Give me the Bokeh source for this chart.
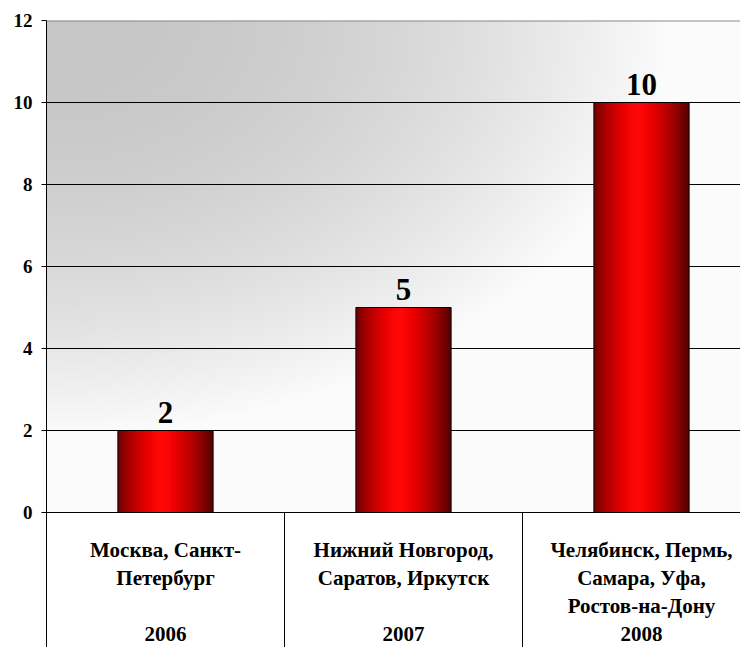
import numpy as np
from bokeh.plotting import figure
from bokeh.models import Range1d, FixedTicker, Span, ColumnDataSource
from bokeh.core.properties import value
from bokeh.embed import file_html
from bokeh.resources import INLINE

# ---- data ----
categories = [
    "Москва, Санкт-\nПетербург",
    "Нижний Новгород,\nСаратов, Иркутск",
    "Челябинск, Пермь,\nСамара, Уфа,\nРостов-на-Дону",
]
years = ["2006", "2007", "2008"]
values = [2, 5, 10]
y_ticks = [0, 2, 4, 6, 8, 10, 12]
grid_ticks = [0, 2, 4, 6, 8, 10]
y_max = 12

# ---- layout constants ----
W, H = 740, 647
LEFT, TOP = 46, 20
PX_PER_UNIT = 41
CAT_PX = 238
BAR_W = 0.40
frame_w = W - LEFT
frame_h = H - TOP
x_end = frame_w / CAT_PX
y_min = y_max - frame_h / PX_PER_UNIT
FONT = value("Liberation Serif")

centers = [i + 0.5 for i in range(len(values))]
bounds = [i + 1 for i in range(len(values))]

p = figure(width=W, height=H, output_backend="svg", toolbar_location=None,
           x_range=Range1d(0, x_end), y_range=Range1d(y_min, y_max),
           x_axis_location=None, min_border_left=LEFT, min_border_top=TOP,
           min_border_right=0, min_border_bottom=0, outline_line_color=None,
           background_fill_color="white", border_fill_color="white")

# background gradient (plot area 0..12)
gw, gh = 347, 246
plot_px_h = y_max * PX_PER_UNIT
xs = np.linspace(0, frame_w, gw)[None, :]
ys = plot_px_h - np.linspace(0, plot_px_h, gh)[:, None]  # px from top; row 0 = bottom
f2 = (xs / 1.5) ** 2 + ys ** 2
c = np.clip(198 + 3.1e-4 * f2, 0, 251).astype(np.uint32)
bg = (255 << 24) | (c << 16) | (c << 8) | c
p.image_rgba(image=[bg.astype(np.uint32)], x=0, y=0, dw=x_end, dh=y_max, level="image")

# grid & axes
p.xgrid.visible = False
p.ygrid.ticker = FixedTicker(ticks=grid_ticks)
p.ygrid.grid_line_color = "black"
p.ygrid.grid_line_width = 1
p.add_layout(Span(location=y_max, dimension="width", line_color="#8a8a8a", line_width=2))

ax = p.yaxis[0]
ax.ticker = FixedTicker(ticks=y_ticks)
ax.axis_line_color = "black"
ax.major_tick_line_color = "black"
ax.major_tick_out = 5
ax.major_tick_in = 0
ax.minor_tick_line_color = None
ax.major_label_standoff = 9
ax.major_label_text_font = "Liberation Serif"
ax.major_label_text_font_style = "bold"
ax.major_label_text_font_size = "19px"
ax.major_label_text_color = "black"

# bar gradient
s = np.linspace(0, 1, 64)
peak = 0.45
r = np.where(s < peak, 255 - 140 * ((peak - s) / peak) ** 1.6,
             255 - 170 * ((s - peak) / (1 - peak)) ** 1.6)
r = np.clip(r, 0, 255).astype(np.uint32)
g = np.clip((r.astype(float) - 235) * 0.4, 0, 255).astype(np.uint32)
bar_img = ((255 << 24) | (g << 16) | (g << 8) | r)[None, :].astype(np.uint32)

for cx, v in zip(centers, values):
    p.image_rgba(image=[bar_img], x=cx - BAR_W / 2, y=0, dw=BAR_W, dh=v)

src = ColumnDataSource(dict(x=centers, top=values, lab=[str(v) for v in values],
                            cat=categories, yr=years))
p.vbar(x="x", top="top", bottom=0, width=BAR_W, source=src,
       fill_color=None, line_color="black", line_width=1)

# value labels
p.text(x="x", y="top", text="lab", source=src, text_font=FONT, text_font_style="bold",
       text_font_size="31px", text_align="center", text_baseline="bottom",
       y_offset=-8, text_color="black")

# table lines below axis
p.segment(x0=bounds[:-1], x1=bounds[:-1], y0=0, y1=y_min, line_color="black", line_width=1)

# category labels
p.text(x="x", y=0, text="cat", source=src, text_font=FONT, text_font_style="bold",
       text_font_size="21px", text_align="center", text_baseline="top",
       y_offset=25, text_line_height=1.17, text_color="black")
p.text(x="x", y=0, text="yr", source=src, text_font=FONT, text_font_style="bold",
       text_font_size="21px", text_align="center", text_baseline="bottom",
       y_offset=128, text_color="black")

open("out.html", "w").write(file_html(p, INLINE))
